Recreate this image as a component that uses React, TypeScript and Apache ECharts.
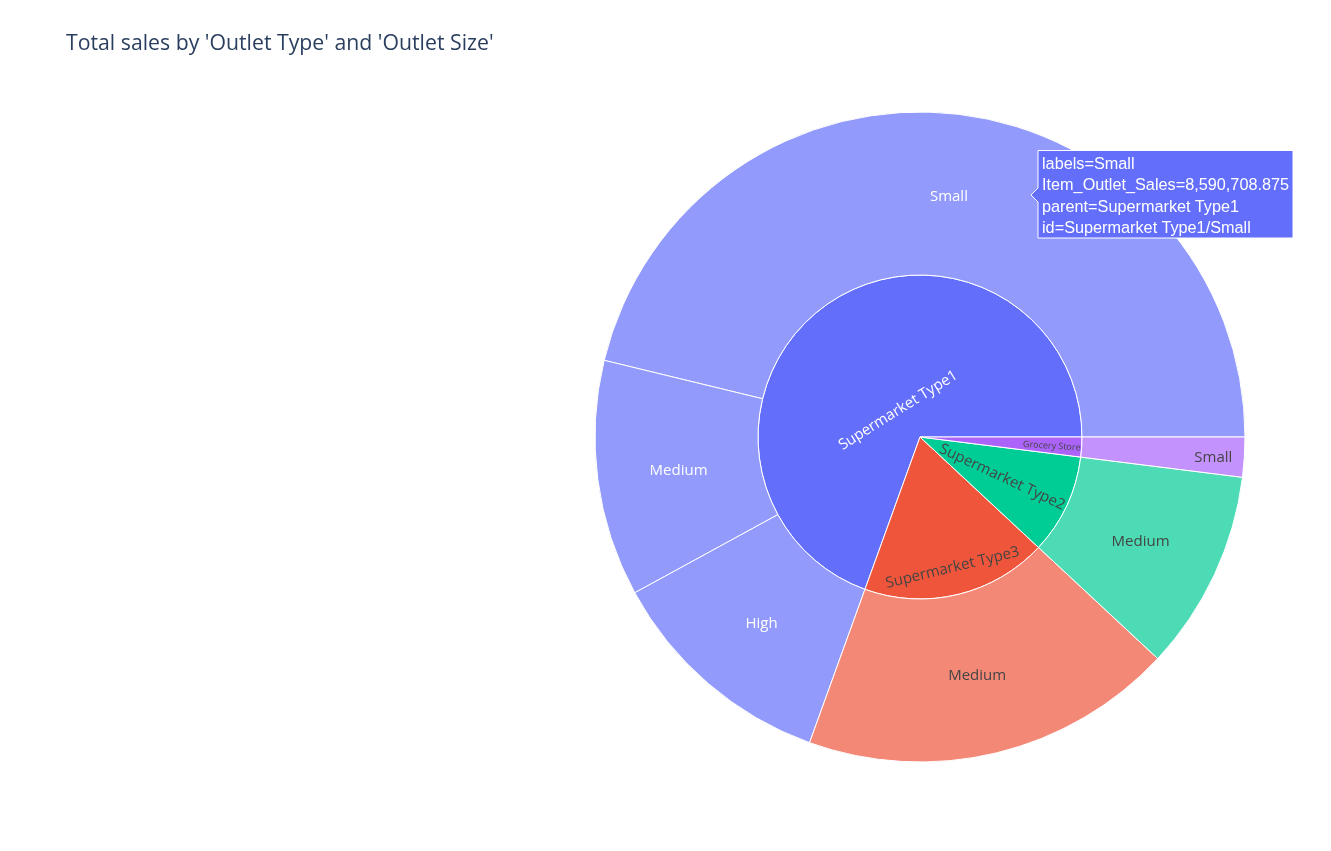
import React, { useEffect, useRef } from 'react';
import * as echarts from 'echarts';

const titleText = "Total sales by 'Outlet Type' and 'Outlet Size'";
const valueField = 'Item_Outlet_Sales';

// Outlet types (inner ring)
const outletTypes = ['Supermarket Type1', 'Supermarket Type3', 'Supermarket Type2', 'Grocery Store'];
// Outlet sizes per type (outer ring)
const outletSizes = [['Small', 'Medium', 'High'], ['Medium'], ['Medium'], ['Small']];
// Total Item_Outlet_Sales per type / size
const salesValues = [
  [8590708.875, 2183969.81, 2142663.58],
  [3453926.05],
  [1851822.83],
  [368034.27],
];

// styles
const typeColors = ['#636efa', '#ef553b', '#00cc96', '#ab63fa'];
const leafColors = ['#929afb', '#f48876', '#4ddbb6', '#c492fc'];
const typeTextColors = ['#ffffff', '#444444', '#444444', '#444444'];
const innerLabelStyles: any[] = [
  { rotate: 32 },
  { rotate: 'tangential' },
  { rotate: 'radial', align: 'right', distance: 2 },
  { rotate: 'radial', align: 'right', distance: 1, fontSize: 9 },
];
// label nudges (px, in the label's own rotated frame) for inner-ring labels, keyed by their text
const innerLabelShift: Record<string, [number, number]> = {
  'Supermarket Type1': [0, 45],
  'Supermarket Type3': [1, 52],
};
const leafLabelStyles: any[][] = [[{}, {}, {}], [{}], [{}], [{ align: 'right', distance: 12 }]];

// hover box content (Supermarket Type1 / Small)
const hoverType = 0;
const hoverSize = 0;

export default function App() {
  const ref = useRef<HTMLDivElement>(null);
  useEffect(() => {
    const chart = echarts.init(ref.current as HTMLDivElement, undefined, { renderer: 'svg' });
    const data = outletTypes.map((t, i) => ({
      name: t,
      itemStyle: { color: typeColors[i] },
      label: { color: typeTextColors[i], ...innerLabelStyles[i] },
      children: outletSizes[i].map((s, j) => ({
        name: s,
        value: salesValues[i][j],
        itemStyle: { color: leafColors[i] },
        label: { color: typeTextColors[i], rotate: 0, ...leafLabelStyles[i][j] },
      })),
    }));

    const hv = salesValues[hoverType][hoverSize];
    const hoverLines = [
      `labels=${outletSizes[hoverType][hoverSize]}`,
      `${valueField}=${hv.toLocaleString('en-US', { maximumFractionDigits: 3 })}`,
      `parent=${outletTypes[hoverType]}`,
      `id=${outletTypes[hoverType]}/${outletSizes[hoverType][hoverSize]}`,
    ];

    chart.setOption({
      animation: false,
      title: {
        text: titleText,
        left: 66,
        top: 31,
        padding: 0,
        textStyle: { fontFamily: 'Open Sans', fontSize: 21.25, fontWeight: 'normal', color: '#2a3f5f' },
      },
      series: [
        {
          type: 'sunburst',
          center: [920, 437],
          radius: [0, 325],
          startAngle: 0,
          clockwise: false,
          sort: 'desc',
          nodeClick: false,
          emphasis: { disabled: true },
          itemStyle: { borderColor: '#ffffff', borderWidth: 1 },
          label: { fontFamily: 'Open Sans', fontSize: 15 },
          labelLayout: (params: any) => {
            const s = innerLabelShift[params.text];
            return s ? { dx: s[0], dy: s[1] } : {};
          },
          levels: [{}, { r0: 0, r: 162 }, { r0: 162, r: 325 }],
          data,
        },
      ],
      graphic: [
        {
          type: 'group',
          z: 100,
          children: [
            {
              type: 'polygon',
              z: 100,
              shape: {
                points: [
                  [1031, 195], [1038, 188], [1038, 150.5], [1293, 150.5], [1293, 238], [1038, 238], [1038, 202],
                ],
              },
              style: { fill: typeColors[hoverType], stroke: '#ffffff', lineWidth: 1 },
            },
            {
              type: 'text',
              z: 101,
              x: 1042,
              y: 152.5,
              style: {
                text: hoverLines.join('\n'),
                fill: '#ffffff',
                font: '16.25px "Liberation Sans", Arial, sans-serif',
                lineHeight: 21.3,
                verticalAlign: 'top',
                align: 'left',
              },
            },
          ],
        },
      ],
    });
    return () => chart.dispose();
  }, []);
  return <div ref={ref} style={{ position: 'fixed', left: 0, top: 0, width: 1331, height: 851 }} />;
}
